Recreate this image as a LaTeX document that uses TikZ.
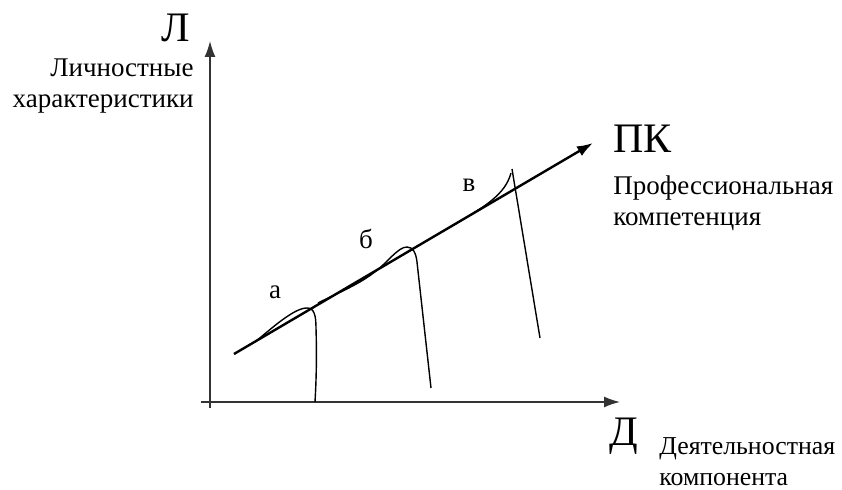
\documentclass[tikz,border=0pt]{standalone}
\usepackage{fontspec}
\setmainfont{Liberation Serif}
\usetikzlibrary{arrows.meta}
\definecolor{axisInk}{HTML}{333333}

\begin{document}
\begin{tikzpicture}[x=0.5pt, y=-0.5pt, >={Latex[length=8pt,width=5.5pt]},
      axis/.style={->, axisInk, line width=0.75pt},
      trend/.style={->, line width=1.2pt},
      wave/.style={line width=0.7pt},
      big/.style={font=\fontsize{21}{25}\selectfont, inner sep=0pt},
      note/.style={font=\fontsize{13.5}{15.8}\selectfont, inner sep=0pt}]
    \useasboundingbox (0,0) rectangle (842,490);
    % ---- axes
    \coordinate (ybot) at (210,408);
    \coordinate (ytop) at (210,41);
    \coordinate (xbeg) at (201,402);
    \coordinate (xend) at (620,402);
    \draw[axis] (ybot) -- (ytop);
    \draw[axis] (xbeg) -- (xend);
    % ---- professional competence line
    \coordinate (pk0) at (234,354);
    \coordinate (pk1) at (593,143);
    \draw[trend] (pk0) -- (pk1);
    % ---- stages a, b, v
    \draw[wave] (255,342) .. controls (272,328) and (294,308) .. (307,308)
      .. controls (314,308) and (316,315) .. (316,328)
      .. controls (317,360) and (316,385) .. (315,402);
    \draw[wave] (318,303) .. controls (340,292) and (360,284) .. (376,271)
      .. controls (388,262) and (398,247) .. (407,247)
      .. controls (413,247) and (416,253) .. (417,262) -- (431,388);
    \draw[wave] (445,230) .. controls (485,207) and (505,195) .. (511,173);
    \draw[wave] (512,169) -- (540,338);
    % ---- labels
    \node[big] (lL) at (176,28) {Л};
    \node[note, align=right, anchor=north east] (lLtxt) at (194,58) {Личностные\\характеристики};
    \node[big, anchor=north west] (lPK) at (613,125) {ПК};
    \node[note, align=left, anchor=north west] (lPKtxt) at (613,175) {Профессиональная\\компетенция};
    \node[big, anchor=north west] (lD) at (609,418) {Д};
    \node[note, font=\fontsize{12.9}{15.8}\selectfont, align=left, anchor=north west] (lDtxt) at (659,437) {Деятельностная\\компонента};
    \node[note] (ta) at (275,292) {а};
    \node[note] (tb) at (366,239) {б};
    \node[note] (tv) at (469,185) {в};
  \end{tikzpicture}
\end{document}
